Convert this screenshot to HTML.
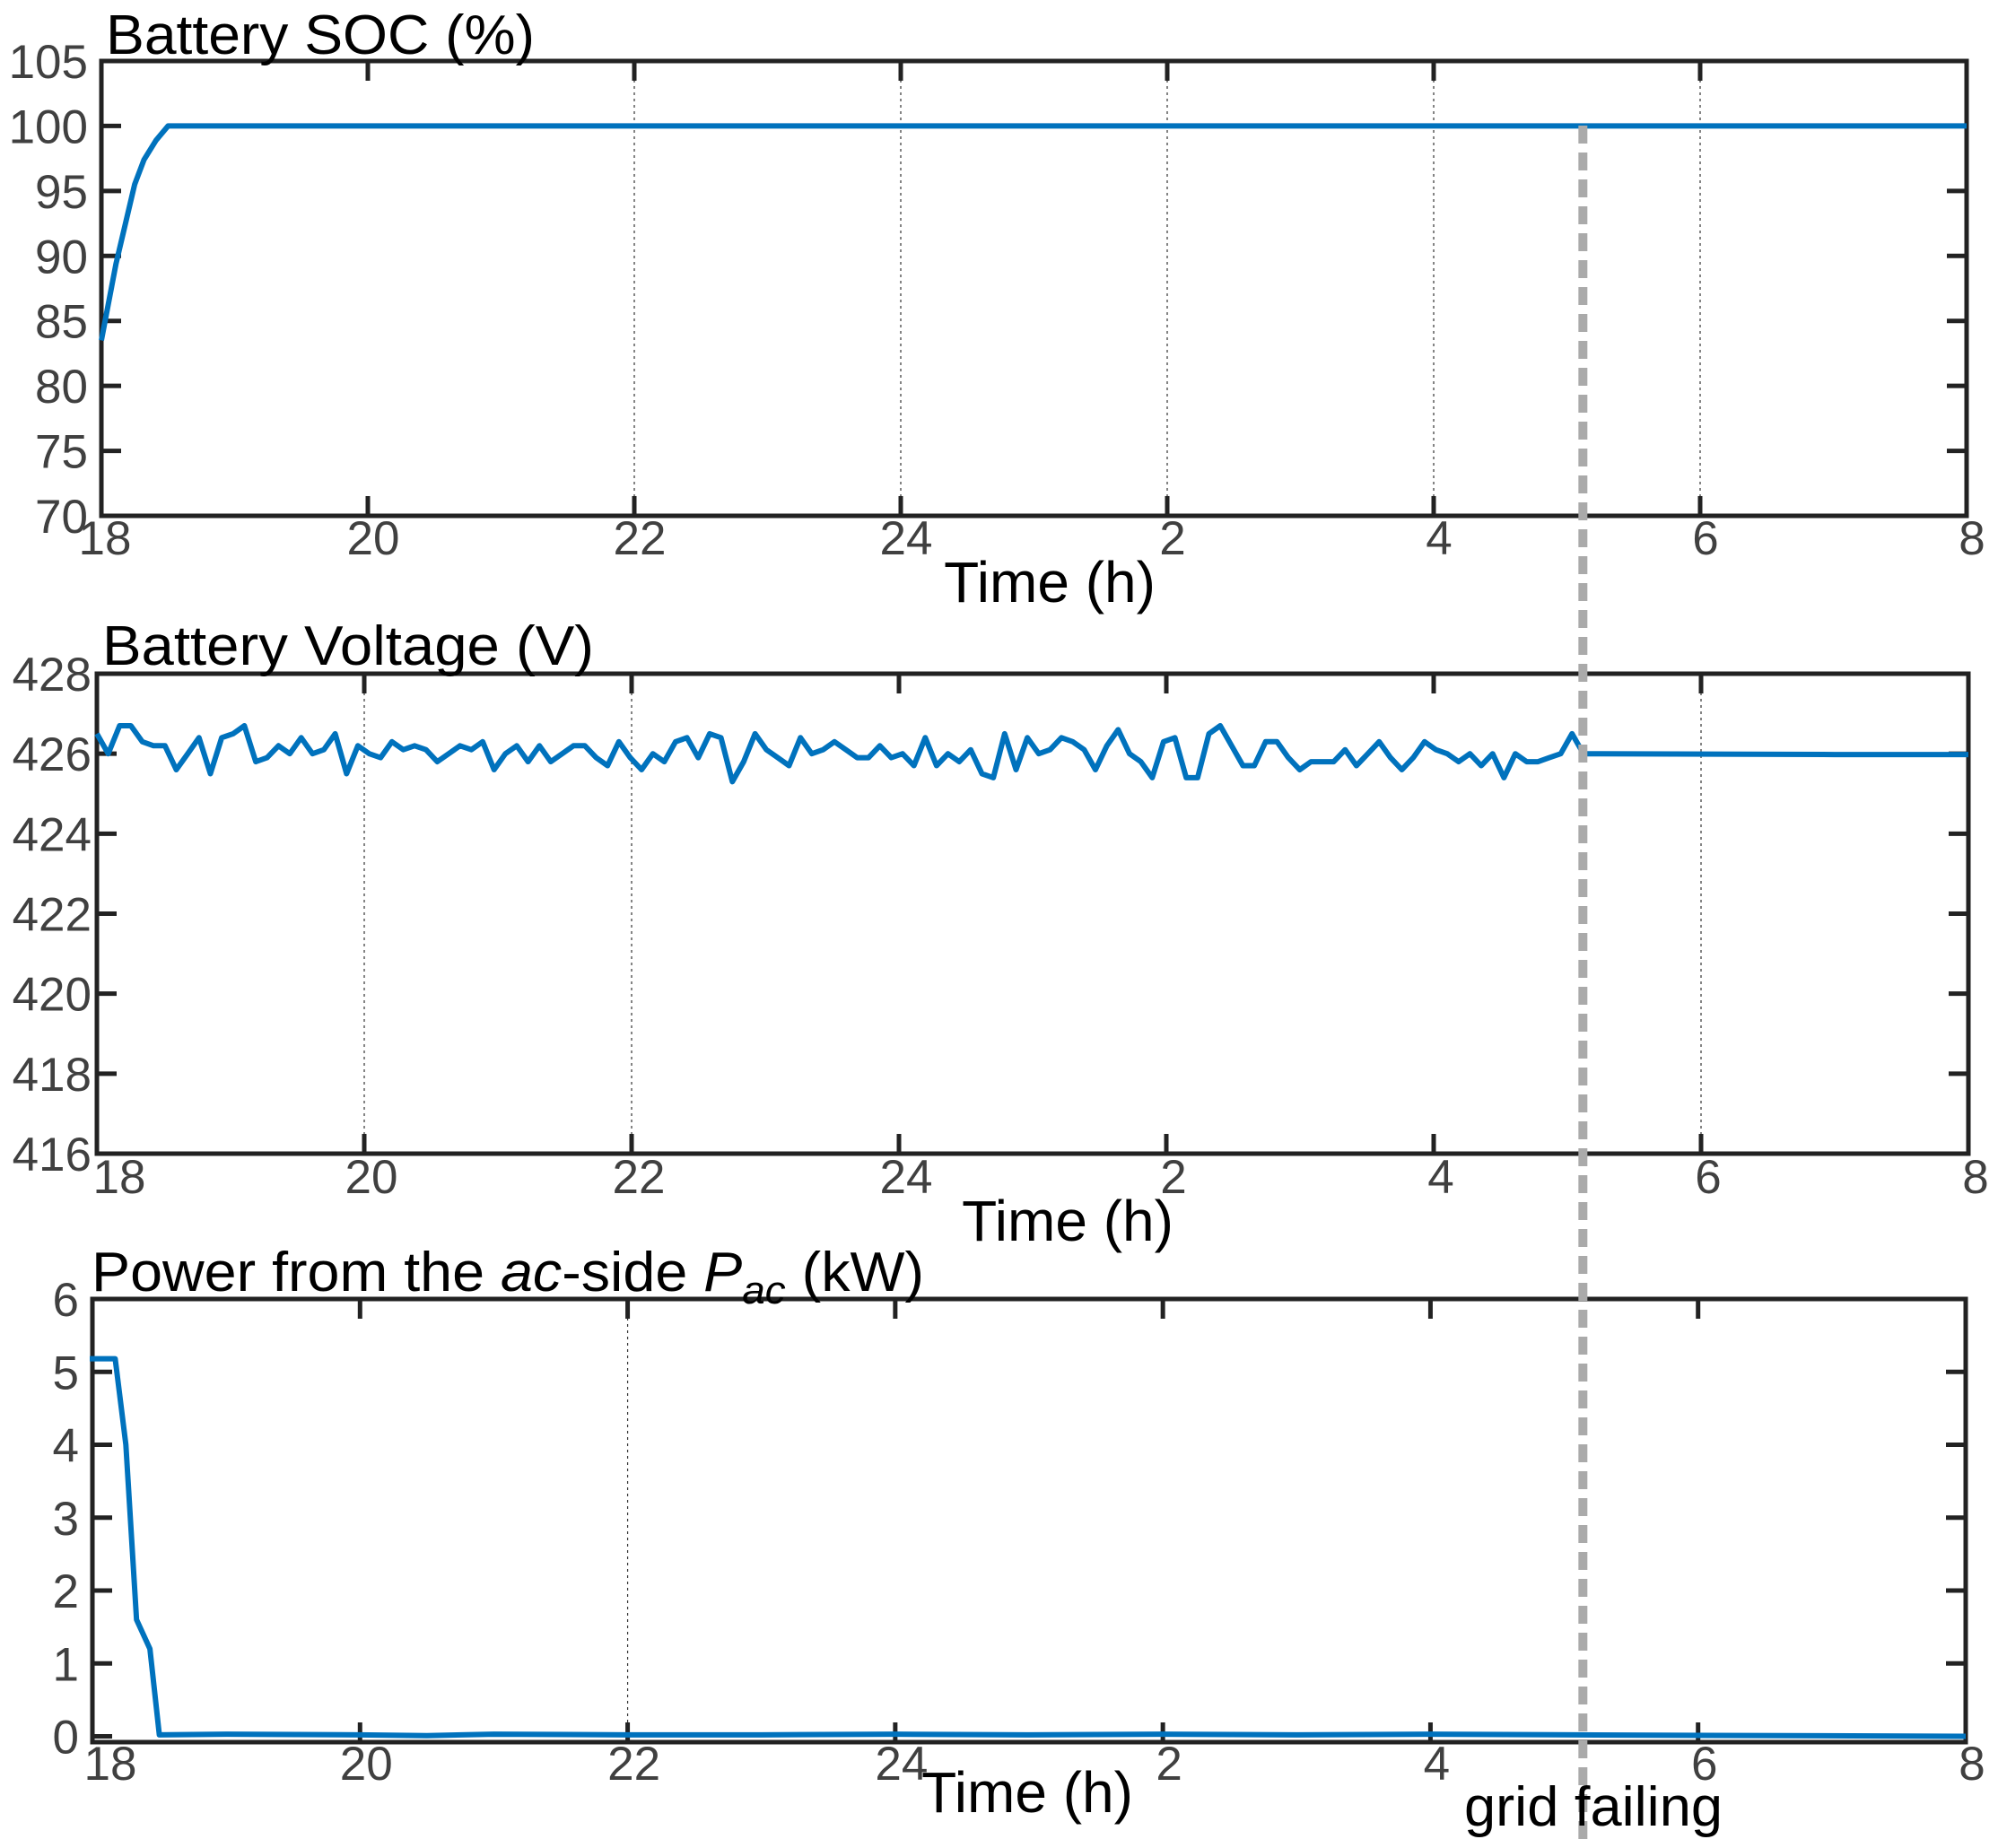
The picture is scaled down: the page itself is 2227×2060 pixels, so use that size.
<!DOCTYPE html>
<html><head><meta charset="utf-8">
<style>
html,body{margin:0;padding:0;background:#fff;}
svg{display:block;}
text{font-family:"Liberation Sans",Arial,sans-serif;}
</style></head>
<body>
<svg id="chart" width="2227" height="2060" viewBox="0 0 2227 2060" xmlns="http://www.w3.org/2000/svg"></svg>
<script>
// ---- data ----
const xTickValues = [18,20,22,24,26,28,30,32];
const xTickLabels = ["18","20","22","24","2","4","6","8"];

const socTimes  = [18, 18.11, 18.25, 18.32, 18.41, 18.5, 32];
const socValues = [83.5, 89.4, 95.5, 97.4, 98.9, 100, 100];
const socTicks  = [70,75,80,85,90,95,100,105];

const voltValues = [426.5,426.0,426.7,426.7,426.3,426.2,426.2,425.6,426.0,426.4,425.5,426.4,426.5,426.7,425.8,425.9,426.2,426.0,426.4,426.0,426.1,426.5,425.5,426.2,426.0,425.9,426.3,426.1,426.2,426.1,425.8,426.0,426.2,426.1,426.3,425.6,426.0,426.2,425.8,426.2,425.8,426.0,426.2,426.2,425.9,425.7,426.3,425.9,425.6,426.0,425.8,426.3,426.4,425.9,426.5,426.4,425.3,425.8,426.5,426.1,425.9,425.7,426.4,426.0,426.1,426.3,426.1,425.9,425.9,426.2,425.9,426.0,425.7,426.4,425.7,426.0,425.8,426.1,425.5,425.4,426.5,425.6,426.4,426.0,426.1,426.4,426.3,426.1,425.6,426.2,426.6,426.0,425.8,425.4,426.3,426.4,425.4,425.4,426.5,426.7,426.2,425.7,425.7,426.3,426.3,425.9,425.6,425.8,425.8,425.8,426.1,425.7,426.0,426.3,425.9,425.6,425.9,426.3,426.1,426.0,425.8,426.0,425.7,426.0,425.4,426.0,425.8,425.8,425.9,426.0,426.5,426.0];
const voltTailTimes  = [29.25, 31, 32];
const voltTailValues = [426.0, 425.98, 425.98];
const voltTicks = [416,418,420,422,424,426,428];

const powTimes  = [17.98, 18.17, 18.25, 18.33, 18.43, 18.5, 19, 20, 20.5, 21, 22, 23, 24, 25, 26, 27, 28, 29.1, 32];
const powValues = [5.18, 5.18, 4.0, 1.6, 1.2, 0.02, 0.03, 0.02, 0.01, 0.03, 0.02, 0.02, 0.03, 0.02, 0.03, 0.02, 0.03, 0.02, 0.0];
const powTicks = [0,1,2,3,4,5,6];

const gridFailTime = 29.12;

// ---- rendering ----
const NS = "http://www.w3.org/2000/svg";
const svg = document.getElementById("chart");
function mk(tag, attrs, parent){
  const e = document.createElementNS(NS, tag);
  for (const k in attrs) e.setAttribute(k, attrs[k]);
  (parent||svg).appendChild(e);
  return e;
}
const BLUE = "#0072BD";

const panels = [
  {name:"soc", L:113, R:2192, T:68, B:575, ymin:70, ymax:105, ticks:socTicks, grids:[22,24,26,28,30], yLabDx:-15, x18dx:4, xdx:6, xlabY:618, timeX:1170, timeY:671,
   title:"Battery SOC (%)", titleX:118, titleY:60, titleW:478},
  {name:"voltage", L:108, R:2194, T:751, B:1286, ymin:416, ymax:428, ticks:voltTicks, grids:[20,22,30], yLabDx:-6, x18dx:25, xdx:8, xlabY:1330, timeX:1190, timeY:1383,
   title:"Battery Voltage (V)", titleX:114, titleY:741, titleW:548},
  {name:"power", L:103, R:2191, T:1448, B:1942, ymin:-0.08, ymax:6, ticks:powTicks, grids:[22], yLabDx:-15, x18dx:20, xdx:7, xlabY:1984, timeX:1145, timeY:2020,
   title:null, titleX:102, titleY:1439, titleW:928}
];

function sx(p, t){ return p.L + (t-18)/14*(p.R-p.L); }
function sy(p, v){ return p.B - (v-p.ymin)/(p.ymax-p.ymin)*(p.B-p.T); }

panels.forEach(p => {
  const g = mk("g", {});
  
  
  // grid lines
  p.grids.forEach(t => {
    const gl = mk("line", {x1:sx(p,t), x2:sx(p,t), y1:p.T, y2:p.B, stroke:"#333", "stroke-width":1.2, "stroke-dasharray":"3,4"}, g);
    
    
  });
  // ticks
  const tk = 22;
  xTickValues.forEach((t,i) => {
    const x = sx(p,t);
    mk("line", {x1:x, x2:x, y1:p.B, y2:p.B-tk, stroke:"#222", "stroke-width":5}, g);
    mk("line", {x1:x, x2:x, y1:p.T, y2:p.T+tk, stroke:"#222", "stroke-width":5}, g);
    const lab = mk("text", {x: x + (i===0 ? p.x18dx : p.xdx), y:p.xlabY, "font-size":53, fill:"#404040", "text-anchor":"middle"}, g);
    lab.textContent = xTickLabels[i];
    
    
  });
  p.ticks.forEach(v => {
    const y = sy(p,v);
    mk("line", {x1:p.L, x2:p.L+tk, y1:y, y2:y, stroke:"#222", "stroke-width":5}, g);
    mk("line", {x1:p.R, x2:p.R-tk, y1:y, y2:y, stroke:"#222", "stroke-width":5}, g);
    const lab = mk("text", {x:p.L + p.yLabDx, y:y+19, "font-size":53, fill:"#404040", "text-anchor":"end"}, g);
    lab.textContent = String(v);
    
    
  });
  // box
  const box = mk("rect", {x:p.L, y:p.T, width:p.R-p.L, height:p.B-p.T, fill:"none", stroke:"#222", "stroke-width":5}, g);
  
  
  // x title
  const xt = mk("text", {x:p.timeX, y:p.timeY, "font-size":64, fill:"#000", "text-anchor":"middle"}, g);
  xt.textContent = "Time (h)";
  
  
  // title
  const tt = mk("text", {x:p.titleX, y:p.titleY, "font-size":62, fill:"#000", textLength:p.titleW, lengthAdjust:"spacingAndGlyphs"}, g);
  if (p.title) tt.textContent = p.title;
  else {
    tt.innerHTML = 'Power from the <tspan font-style="italic">ac</tspan>-side <tspan font-style="italic">P</tspan><tspan font-style="italic" font-size="44" dy="14">ac</tspan><tspan dy="-14"> (kW)</tspan>';
  }
  
  
  p.g = g;
});

function drawLine(p, ts, vs, name){
  const d = ts.map((t,i) => (i?"L":"M") + sx(p,t).toFixed(1) + "," + sy(p,vs[i]).toFixed(1)).join(" ");
  const path = mk("path", {d:d, fill:"none", stroke:BLUE, "stroke-width":6, "stroke-linejoin":"round"}, p.g);
  
  
}
drawLine(panels[0], socTimes, socValues, 'soc-line');
const vt = voltValues.map((v,i) => 18 + i*(gridFailTime-18)/(voltValues.length-1));
drawLine(panels[1], vt.concat(voltTailTimes), voltValues.concat(voltTailValues), 'voltage-line');
drawLine(panels[2], powTimes, powValues, 'power-line');

// grid failing marker
const gx = sx(panels[0], gridFailTime);
const gf = mk("line", {x1:gx, x2:gx, y1:140, y2:2060, stroke:"#aaaaaa", "stroke-width":10, "stroke-dasharray":"20,10", "stroke-linecap":"butt"});


const gt = mk("text", {x:1632, y:2035, "font-size":62, fill:"#000", textLength:288, lengthAdjust:"spacingAndGlyphs"});
gt.textContent = "grid failing";


</script>
</body></html>
